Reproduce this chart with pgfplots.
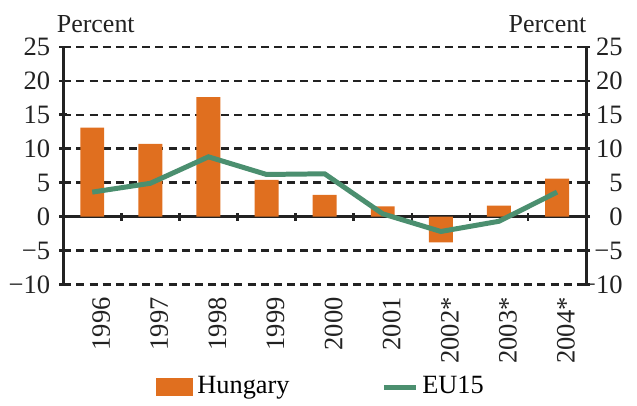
\documentclass[border=0pt]{standalone}
\usepackage{fontspec}
\setmainfont{Liberation Serif}
\newfontfamily\tnr{Liberation Serif}
\usepackage{pgfplots}
\pgfplotsset{compat=1.18}
\definecolor{hun}{HTML}{E06F1F}
\definecolor{eu}{HTML}{4B8F6F}
\definecolor{gridc}{HTML}{222222}
\begin{document}
\tnr\fontsize{13pt}{15pt}\selectfont
\begin{tikzpicture}[font=\tnr\fontsize{13pt}{15pt}\selectfont]
\pgfplotsset{
  base/.style={
    width=262pt, height=119pt, scale only axis,
    xmin=-0.5, xmax=8.5, ymin=-10, ymax=25,
    ytick={-10,-5,0,5,10,15,20,25},
    yticklabels={−10,−5,0,5,10,15,20,25},
    tick label style={font=\tnr\fontsize{13.3pt}{15pt}\selectfont, text=gridc},
    tick style={line width=1.3pt, color=gridc},
    major tick length=4pt,
    tick align=outside,
  }
}
\begin{axis}[base, name=ax1,
  axis x line=middle, axis y line=left,
  axis line style={-, line width=1.4pt, color=gridc},
  hide obscured y ticks=false, hide obscured x ticks=false,
  xtick={0.5,1.5,...,7.5}, xticklabels={},
  major x tick style={line width=1.3pt, color=gridc},
  ymajorgrids,
  grid style={dash pattern=on 4pt off 2.6pt, line width=1.2pt, color=gridc},
  legend columns=2,
  legend style={draw=none, fill=none, at={(0.5,0)}, anchor=center, yshift=-51.5pt, xshift=-1.5pt,
    font=\tnr\fontsize{13.2pt}{15pt}\selectfont,
    /tikz/every even column/.append style={column sep=44pt}},
]
\addplot[ybar, bar width=12pt, fill=hun, draw=none,
  legend image code/.code={\fill[hun] (0pt,-4.5pt) rectangle (19pt,4.5pt);}]
  coordinates {(0,13.1) (1,10.7) (2,17.6) (3,5.4) (4,3.2) (5,1.5) (6,-3.8) (7,1.6) (8,5.6)};
\addlegendentry{Hungary}
\addplot[eu, line width=2.5pt, mark=none,
  legend image code/.code={\draw[eu, line width=2.5pt] (0pt,0pt) -- (16pt,0pt);}]
  coordinates {(0,3.6) (1,4.9) (2,8.8) (3,6.2) (4,6.3) (5,0.4) (6,-2.2) (7,-0.7) (8,3.6)};
\addlegendentry{EU15}
\end{axis}
\begin{axis}[base,
  axis y line=right, axis x line=bottom,
  axis line style={-, line width=1.4pt, color=gridc},
  x axis line style={draw=none},
  xtick={0,...,8},
  xticklabels={1996,1997,1998,1999,2000,2001,2002*,2003*,2004*},
  major x tick style={draw=none},
  xticklabel style={rotate=90, anchor=east, yshift=-4.5pt},
  yticklabel style={anchor=east, xshift=20.8pt},
]
\end{axis}
\node[anchor=base west, text=gridc, xshift=-7.7pt, yshift=7pt] at (ax1.north west) {Percent};
\node[anchor=base east, text=gridc, xshift=4.7pt, yshift=7pt] at (ax1.north east) {Percent};
\path (ax1.south west) ++(-31pt,-58.5pt) (ax1.north east) ++(25.5pt,23.5pt);
\end{tikzpicture}
\end{document}
